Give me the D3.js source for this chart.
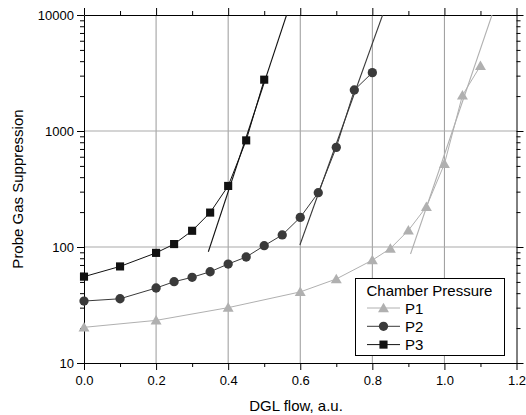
<!DOCTYPE html>
<html><head><meta charset="utf-8">
<script src="https://cdn.jsdelivr.net/npm/d3@7"></script>
<style>body{margin:0;background:#fff;} text{font-family:"Liberation Sans",Arial,sans-serif;}</style>
</head><body>
<svg id="c" width="526" height="415"></svg>
<script>
// Data
const p1X = [0, 0.2, 0.4, 0.6, 0.7, 0.8, 0.85, 0.9, 0.95, 1.0, 1.05, 1.1];
const p1Y = [20.3, 23.3, 30, 41, 53, 77, 97, 139, 222, 520, 2030, 3650];
const p2X = [0, 0.1, 0.2, 0.25, 0.3, 0.35, 0.4, 0.45, 0.5, 0.55, 0.6, 0.65, 0.7, 0.75, 0.8];
const p2Y = [34.2, 35.8, 44.3, 50.2, 54.8, 61.2, 71.3, 82, 102.6, 127, 180, 294, 723, 2256, 3184];
const p3X = [0, 0.1, 0.2, 0.25, 0.3, 0.35, 0.4, 0.45, 0.5];
const p3Y = [55.5, 68, 89, 106, 138, 198, 336, 830, 2770];
// exponential fit lines (end points)
const fit1X = [0.906, 1.132], fit1Y = [87, 10000];
const fit2X = [0.599, 0.8285], fit2Y = [104, 10000];
const fit3X = [0.345, 0.562], fit3Y = [91, 10000];
const seriesNames = ["P1", "P2", "P3"];
const xTicks = [0, 0.2, 0.4, 0.6, 0.8, 1.0, 1.2];
const yTicks = [10, 100, 1000, 10000];
const legendTitle = "Chamber Pressure";
const xTitle = "DGL flow, a.u.";
const yTitle = "Probe Gas Suppression";

const L = 84, R = 516.5, T = 15, B = 363;
const x = d3.scaleLinear().domain([0, 1.2]).range([L, R]);
const y = d3.scaleLog().domain([10, 10000]).range([B, T]);
const svg = d3.select("#c");

// grid
const g = svg.append("g");
g.selectAll(".vg").data([0.2, 0.4, 0.6, 0.8, 1.0]).enter().append("line")
  .attr("x1", d => x(d)).attr("x2", d => x(d)).attr("y1", T).attr("y2", B)
  .attr("stroke", "#999").attr("stroke-width", 1);
g.selectAll(".hg").data([100, 1000]).enter().append("line")
  .attr("x1", L).attr("x2", R).attr("y1", d => y(d)).attr("y2", d => y(d))
  .attr("stroke", "#aaa").attr("stroke-width", 1.2);

// axes
const minorY = [];
for (let e = 10; e < 10000; e *= 10) for (let k = 2; k <= 9; k++) minorY.push(e * k);
const minorX = [0.1, 0.3, 0.5, 0.7, 0.9, 1.1];

const fmtY = d3.format("d");
const ax = svg.append("g").attr("transform", `translate(0,${B})`)
  .call(d3.axisBottom(x).tickValues(xTicks).tickFormat(d3.format(".1f")).tickSize(7).tickSizeOuter(0));
ax.selectAll("text").attr("font-size", 13).attr("dy", "0.95em").attr("fill", "#000");
svg.append("g").attr("transform", `translate(0,${B})`)
  .call(d3.axisBottom(x).tickValues(minorX).tickFormat("").tickSize(4)).call(s => s.select(".domain").remove());
svg.append("g").attr("transform", `translate(0,${T})`)
  .call(d3.axisTop(x).tickValues(xTicks).tickFormat("").tickSize(7).tickSizeOuter(0));
svg.append("g").attr("transform", `translate(0,${T})`)
  .call(d3.axisTop(x).tickValues(minorX).tickFormat("").tickSize(4)).call(s => s.select(".domain").remove());
const ayL = svg.append("g").attr("transform", `translate(${L},0)`)
  .call(d3.axisLeft(y).tickValues(yTicks).tickFormat(fmtY).tickSize(7).tickSizeOuter(0));
ayL.selectAll("text").attr("font-size", 13).attr("fill", "#000");
svg.append("g").attr("transform", `translate(${L},0)`)
  .call(d3.axisLeft(y).tickValues(minorY).tickFormat("").tickSize(4)).call(s => s.select(".domain").remove());
svg.append("g").attr("transform", `translate(${R},0)`)
  .call(d3.axisRight(y).tickValues(yTicks).tickFormat("").tickSize(7).tickSizeOuter(0));
svg.append("g").attr("transform", `translate(${R},0)`)
  .call(d3.axisRight(y).tickValues(minorY).tickFormat("").tickSize(4)).call(s => s.select(".domain").remove());
svg.selectAll(".tick line, .domain").attr("stroke", "#000");

// titles
svg.append("text").attr("x", 296).attr("y", 411).attr("text-anchor", "middle")
  .attr("font-size", 15).text(xTitle);
svg.append("text").attr("transform", `translate(23,${(T + B) / 2}) rotate(-90)`)
  .attr("text-anchor", "middle").attr("font-size", 15).text(yTitle);

// series
const series = [
  { xs: p1X, ys: p1Y, fx: fit1X, fy: fit1Y, color: "#b0b0b0", shape: "tri" },
  { xs: p2X, ys: p2Y, fx: fit2X, fy: fit2Y, color: "#3a3a3a", shape: "circ" },
  { xs: p3X, ys: p3Y, fx: fit3X, fy: fit3Y, color: "#111111", shape: "sq" }
];
const line = d3.line().x(d => x(d[0])).y(d => y(d[1]));
const sym = {
  tri: d3.symbol().type(d3.symbolTriangle).size(52),
  circ: d3.symbol().type(d3.symbolCircle).size(68),
  sq: d3.symbol().type(d3.symbolSquare).size(66)
};
svg.append("clipPath").attr("id", "clp").append("rect")
  .attr("x", L).attr("y", T).attr("width", R - L).attr("height", B - T);
series.forEach(s => {
  const pts = s.xs.map((v, i) => [v, s.ys[i]]);
  const fpts = s.fx.map((v, i) => [v, s.fy[i]]);
  svg.append("path").attr("d", line(fpts)).attr("fill", "none").attr("stroke", s.color)
    .attr("stroke-width", 1.1).attr("clip-path", "url(#clp)");
  svg.append("path").attr("d", line(pts)).attr("fill", "none").attr("stroke", s.color).attr("stroke-width", 1);
  svg.selectAll(null).data(pts).enter().append("path")
    .attr("d", sym[s.shape]).attr("transform", d => `translate(${x(d[0])},${y(d[1]) + (s.shape === "tri" ? 1 : 0)})`)
    .attr("fill", s.color);
});

// legend
const lg = svg.append("g");
lg.append("rect").attr("x", 355.5).attr("y", 278.5).attr("width", 149).attr("height", 77)
  .attr("fill", "#fff").attr("stroke", "#000").attr("stroke-width", 1);
lg.append("text").attr("x", 366.5).attr("y", 295.5).attr("font-size", 15).text(legendTitle);
series.forEach((s, i) => {
  const yy = 308 + i * 18.3;
  lg.append("line").attr("x1", 367).attr("x2", 400).attr("y1", yy).attr("y2", yy)
    .attr("stroke", s.color).attr("stroke-width", 1);
  lg.append("path").attr("d", sym[s.shape]).attr("transform", `translate(383.5,${yy + (s.shape === "tri" ? 1 : 0)})`).attr("fill", s.color);
  lg.append("text").attr("x", 405).attr("y", yy + 5.5).attr("font-size", 15).text(seriesNames[i]);
});
</script>
</body></html>
